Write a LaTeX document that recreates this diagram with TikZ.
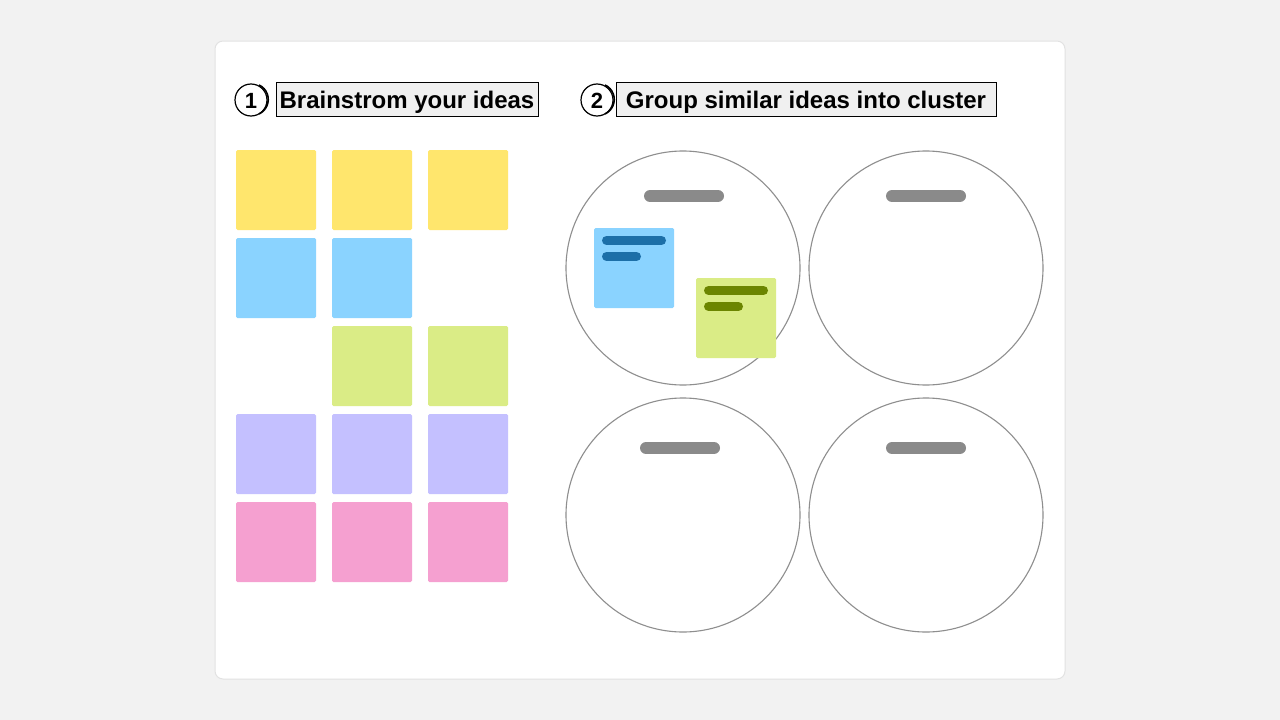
\documentclass[tikz,border=0pt]{standalone}
\usepackage{fontspec}
\setmainfont{Liberation Sans}
\begin{document}
\begin{tikzpicture}[x=1pt,y=-1pt,
  note/.style={draw=none,rounded corners=1.5pt},
  bar/.style={line width=#1,line cap=round},
  ring/.style={draw=ringgray,line width=1.1pt},
  numc/.style={circle,draw=black,line width=1.2pt,minimum size=32pt,inner sep=0pt},
  numtxt/.style={inner sep=0pt,anchor=base,font=\bfseries\fontsize{22}{22}\selectfont},
  titlebox/.style={draw=black,fill=titlegray,line width=0.8pt,inner sep=0pt},
  titletxt/.style={inner sep=0pt,anchor=base,font=\bfseries\fontsize{24}{26}\selectfont}
]
\definecolor{bg}{HTML}{F2F2F2}
\definecolor{cardedge}{HTML}{E2E2E2}
\definecolor{titlegray}{HTML}{F0F0F0}
\definecolor{yel}{HTML}{FFE66D}
\definecolor{blu}{HTML}{8AD3FF}
\definecolor{grn}{HTML}{DAEC86}
\definecolor{pur}{HTML}{C4C0FF}
\definecolor{pnk}{HTML}{F5A0D0}
\definecolor{ringgray}{HTML}{8E8E8E}
\definecolor{bargray}{HTML}{8A8A8A}
\definecolor{dblue}{HTML}{1C6FA8}
\definecolor{dgreen}{HTML}{6B8500}
\useasboundingbox (0,0) rectangle (1280,720);
\fill[bg] (0,0) rectangle (1280,720);
\draw[cardedge,fill=white,line width=1pt,rounded corners=8pt] (215,41) rectangle (1065,679);

% headings
\node[numc] (n1) at (251,100) {};
\draw[line width=1.6pt] ([shift={(1,0)}]n1.65) arc (-65:65:16);
\node[numtxt] (n1t) at (251,108) {1};
\node[titlebox,minimum width=262pt,minimum height=34pt] (t1) at (407,99) {};
\node[titletxt] (t1t) at (407,108) {Brainstrom your ideas};
\node[numc] (n2) at (597,100) {};
\draw[line width=1.6pt] ([shift={(1,0)}]n2.65) arc (-65:65:16);
\node[numtxt] (n2t) at (597,108) {2};
\node[titlebox,minimum width=380pt,minimum height=34pt] (t2) at (806,99) {};
\node[titletxt] (t2t) at (806,108) {Group similar ideas into cluster};

% sticky notes
\foreach \c/\x in {yel/236,yel/332,yel/428}{\fill[note,\c] (\x,150) rectangle ++(80,80);}
\foreach \c/\x in {blu/236,blu/332}{\fill[note,\c] (\x,238) rectangle ++(80,80);}
\foreach \c/\x in {grn/332,grn/428}{\fill[note,\c] (\x,326) rectangle ++(80,80);}
\foreach \c/\x in {pur/236,pur/332,pur/428}{\fill[note,\c] (\x,414) rectangle ++(80,80);}
\foreach \c/\x in {pnk/236,pnk/332,pnk/428}{\fill[note,\c] (\x,502) rectangle ++(80,80);}

% clusters
\draw[ring] (683,268) circle (117);
\draw[ring] (926,268) circle (117);
\draw[ring] (683,515) circle (117);
\draw[ring] (926,515) circle (117);
\draw[bargray,bar=12pt] (650,196) -- (718,196);
\draw[bargray,bar=12pt] (892,196) -- (960,196);
\draw[bargray,bar=12pt] (646,448) -- (714,448);
\draw[bargray,bar=12pt] (892,448) -- (960,448);

% notes inside cluster 1
\fill[note,blu] (594,228) rectangle (674,308);
\draw[dblue,bar=9pt] (606.5,240.5) -- (661.5,240.5);
\draw[dblue,bar=9pt] (606.5,256.5) -- (636.5,256.5);
\fill[note,grn] (696,278) rectangle (776,358);
\draw[dgreen,bar=9pt] (708.5,290.5) -- (763.5,290.5);
\draw[dgreen,bar=9pt] (708.5,306.5) -- (738.5,306.5);
\end{tikzpicture}
\end{document}
